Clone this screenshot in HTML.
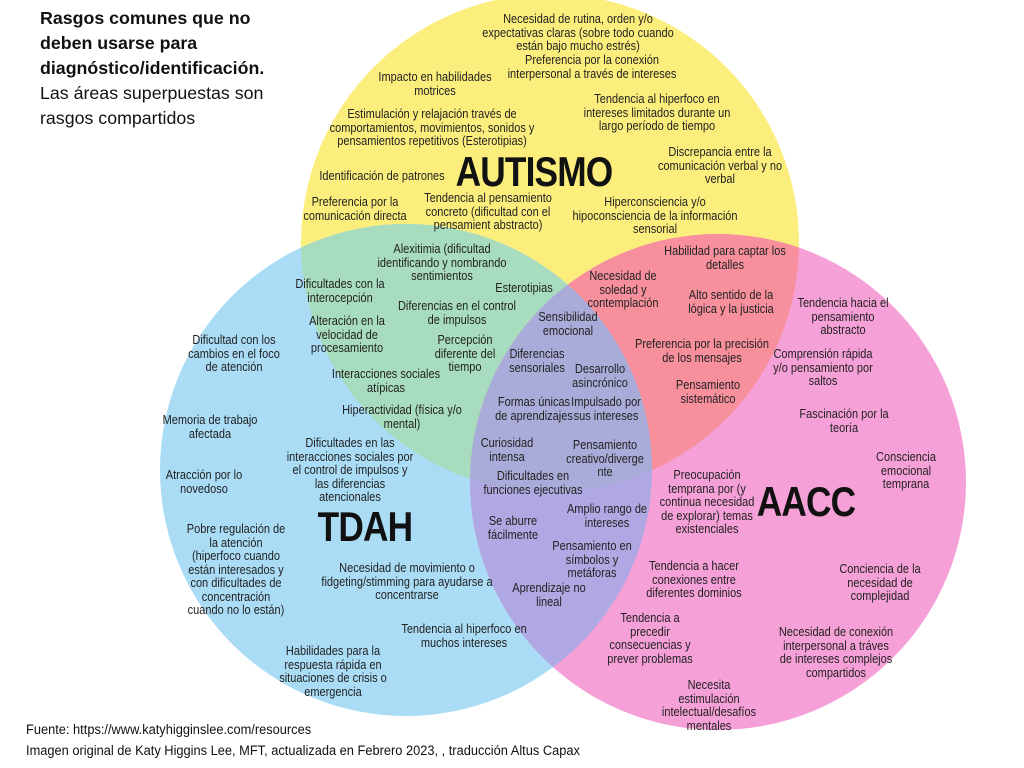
<!DOCTYPE html>
<html><head><meta charset="utf-8"><style>
body{margin:0;width:1024px;height:768px;background:#fff;position:relative;overflow:hidden;font-family:"Liberation Sans",sans-serif;}
svg{position:absolute;left:0;top:0}
.t{position:absolute;font-size:12.5px;line-height:13.5px;color:#222;text-align:center;transform:translateX(-50%) scaleX(0.88);white-space:nowrap}
.big{position:absolute;font-weight:bold;font-size:42px;color:#111;letter-spacing:-1px;transform:translateX(-50%) scaleX(0.84)}
.hd{position:absolute;left:40px;top:6px;font-family:"Liberation Sans",sans-serif;font-size:17.8px;line-height:25px;color:#111}
.ft{position:absolute;left:26px;font-size:13.5px;color:#111;transform-origin:0 0;transform:scaleX(0.95);white-space:nowrap}
</style></head><body>
<svg width="1024" height="768">
<defs>
<clipPath id="cy"><circle cx="550" cy="243" r="249"/></clipPath>
<clipPath id="cb"><circle cx="406" cy="470" r="246"/></clipPath>
</defs>
<circle cx="550" cy="243" r="249" fill="#fcee7c"/>
<circle cx="406" cy="470" r="246" fill="#aadcf6"/>
<circle cx="718" cy="482" r="248" fill="#f6a0d8"/>
<g clip-path="url(#cy)"><circle cx="406" cy="470" r="246" fill="#a8dcbe"/><circle cx="718" cy="482" r="248" fill="#f7909c"/></g>
<g clip-path="url(#cb)"><circle cx="718" cy="482" r="248" fill="#afa8e2"/></g>
<g clip-path="url(#cy)"><g clip-path="url(#cb)"><circle cx="718" cy="482" r="248" fill="#a9acd8"/></g></g>
</svg>
<div class="hd"><b>Rasgos comunes que no<br>deben usarse para<br>diagnóstico/identificación.</b><br>Las áreas superpuestas son<br>rasgos compartidos</div>
<div class="big" style="left:534px;top:148px">AUTISMO</div>
<div class="big" style="left:365px;top:503px">TDAH</div>
<div class="big" style="left:806px;top:478px">AACC</div>

<div class="t" style="left:578px;top:13px">Necesidad de rutina, orden y/o<br>expectativas claras (sobre todo cuando<br>están bajo mucho estrés)</div>
<div class="t" style="left:592px;top:54px">Preferencia por la conexión<br>interpersonal a través de intereses</div>
<div class="t" style="left:435px;top:71px">Impacto en habilidades<br>motrices</div>
<div class="t" style="left:657px;top:93px">Tendencia al hiperfoco en<br>intereses limitados durante un<br>largo período de tiempo</div>
<div class="t" style="left:432px;top:108px">Estimulación y relajación través de<br>comportamientos, movimientos, sonidos y<br>pensamientos repetitivos (Esterotipias)</div>
<div class="t" style="left:720px;top:146px">Discrepancia entre la<br>comunicación verbal y no<br>verbal</div>
<div class="t" style="left:382px;top:170px">Identificación de patrones</div>
<div class="t" style="left:355px;top:196px">Preferencia por la<br>comunicación directa</div>
<div class="t" style="left:488px;top:192px">Tendencia al pensamiento<br>concreto (dificultad con el<br>pensamient abstracto)</div>
<div class="t" style="left:655px;top:196px">Hiperconsciencia y/o<br>hipoconsciencia de la información<br>sensorial</div>
<div class="t" style="left:442px;top:243px">Alexitimia (dificultad<br>identificando y nombrando<br>sentimientos</div>
<div class="t" style="left:725px;top:245px">Habilidad para captar los<br>detalles</div>
<div class="t" style="left:340px;top:278px">Dificultades con la<br>interocepción</div>
<div class="t" style="left:524px;top:282px">Esterotipias</div>
<div class="t" style="left:623px;top:270px">Necesidad de<br>soledad y<br>contemplación</div>
<div class="t" style="left:731px;top:289px">Alto sentido de la<br>lógica y la justicia</div>
<div class="t" style="left:843px;top:297px">Tendencia hacia el<br>pensamiento<br>abstracto</div>
<div class="t" style="left:457px;top:300px">Diferencias en el control<br>de impulsos</div>
<div class="t" style="left:347px;top:315px">Alteración en la<br>velocidad de<br>procesamiento</div>
<div class="t" style="left:568px;top:311px">Sensibilidad<br>emocional</div>
<div class="t" style="left:234px;top:334px">Dificultad con los<br>cambios en el foco<br>de atención</div>
<div class="t" style="left:465px;top:334px">Percepción<br>diferente del<br>tiempo</div>
<div class="t" style="left:702px;top:338px">Preferencia por la precisión<br>de los mensajes</div>
<div class="t" style="left:537px;top:348px">Diferencias<br>sensoriales</div>
<div class="t" style="left:600px;top:363px">Desarrollo<br>asincrónico</div>
<div class="t" style="left:823px;top:348px">Comprensión rápida<br>y/o pensamiento por<br>saltos</div>
<div class="t" style="left:386px;top:368px">Interacciones sociales<br>atípicas</div>
<div class="t" style="left:708px;top:379px">Pensamiento<br>sistemático</div>
<div class="t" style="left:534px;top:396px">Formas únicas<br>de aprendizajes</div>
<div class="t" style="left:606px;top:396px">Impulsado por<br>sus intereses</div>
<div class="t" style="left:402px;top:404px">Hiperactividad (física y/o<br>mental)</div>
<div class="t" style="left:844px;top:408px">Fascinación por la<br>teoría</div>
<div class="t" style="left:210px;top:414px">Memoria de trabajo<br>afectada</div>
<div class="t" style="left:350px;top:437px">Dificultades en las<br>interacciones sociales por<br>el control de impulsos y<br>las diferencias<br>atencionales</div>
<div class="t" style="left:507px;top:437px">Curiosidad<br>intensa</div>
<div class="t" style="left:605px;top:439px">Pensamiento<br>creativo/diverge<br>nte</div>
<div class="t" style="left:906px;top:451px">Consciencia<br>emocional<br>temprana</div>
<div class="t" style="left:204px;top:469px">Atracción por lo<br>novedoso</div>
<div class="t" style="left:533px;top:470px">Dificultades en<br>funciones ejecutivas</div>
<div class="t" style="left:707px;top:469px">Preocupación<br>temprana por (y<br>continua necesidad<br>de explorar) temas<br>existenciales</div>
<div class="t" style="left:607px;top:503px">Amplio rango de<br>intereses</div>
<div class="t" style="left:513px;top:515px">Se aburre<br>fácilmente</div>
<div class="t" style="left:236px;top:523px">Pobre regulación de<br>la atención<br>(hiperfoco cuando<br>están interesados y<br>con dificultades de<br>concentración<br>cuando no lo están)</div>
<div class="t" style="left:592px;top:540px">Pensamiento en<br>símbolos y<br>metáforas</div>
<div class="t" style="left:407px;top:562px">Necesidad de movimiento o<br>fidgeting/stimming para ayudarse a<br>concentrarse</div>
<div class="t" style="left:694px;top:560px">Tendencia a hacer<br>conexiones entre<br>diferentes dominios</div>
<div class="t" style="left:880px;top:563px">Conciencia de la<br>necesidad de<br>complejidad</div>
<div class="t" style="left:549px;top:582px">Aprendizaje no<br>lineal</div>
<div class="t" style="left:650px;top:612px">Tendencia a<br>precedir<br>consecuencias y<br>prever problemas</div>
<div class="t" style="left:464px;top:623px">Tendencia al hiperfoco en<br>muchos intereses</div>
<div class="t" style="left:836px;top:626px">Necesidad de conexión<br>interpersonal a tráves<br>de intereses complejos<br>compartidos</div>
<div class="t" style="left:333px;top:645px">Habilidades para la<br>respuesta rápida en<br>situaciones de crisis o<br>emergencia</div>
<div class="t" style="left:709px;top:679px">Necesita<br>estimulación<br>intelectual/desafíos<br>mentales</div>
<div class="ft" style="top:722px">Fuente: https://www.katyhigginslee.com/resources</div>
<div class="ft" style="top:743px">Imagen original de Katy Higgins Lee, MFT, actualizada en Febrero 2023, , traducción Altus Capax</div>
</body></html>
